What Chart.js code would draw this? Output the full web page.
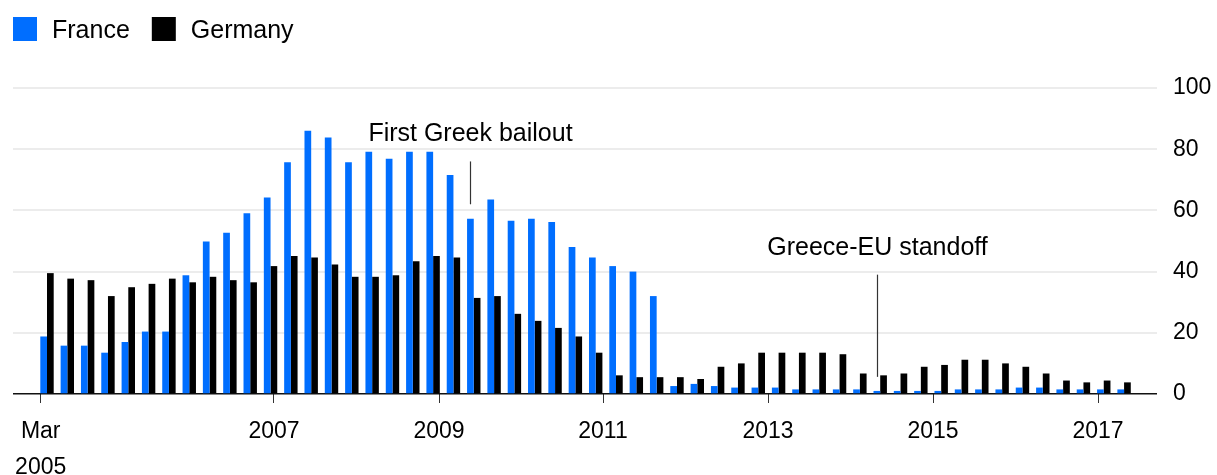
<!DOCTYPE html>
<html>
<head>
<meta charset="utf-8">
<script src="https://cdn.jsdelivr.net/npm/chart.js@4.4.1/dist/chart.umd.min.js"></script>
<style>
  html, body { margin: 0; padding: 0; background: #fff; }
  #wrap { width: 1217px; height: 475px; }
</style>
</head>
<body>
<div id="wrap"><canvas id="chart" width="1217" height="475"></canvas></div>
<script>
// quarterly values, Mar 2005 onwards
const france = [18.8, 15.8, 15.8, 13.5, 17.0, 20.4, 20.4, 38.8, 49.8, 52.7, 59.1, 64.2, 75.7, 86.0, 83.8, 75.7, 79.2, 76.9, 79.2,
  79.2, 71.6, 57.3, 63.6, 56.6, 57.3, 56.2, 48.0, 44.6, 41.8, 40.0, 32.0,
  2.6, 3.3, 2.6, 2.1, 2.1, 2.1, 1.5,
  1.5, 1.5, 1.5, 1.0, 1.0, 1.0, 1.0, 1.5, 1.5, 1.5, 2.1, 2.1, 1.5, 1.5, 1.5, 1.5];
const germany = [39.5, 37.7, 37.2, 32.0, 34.9, 36.0, 37.7, 36.5, 38.3, 37.2, 36.5, 41.8, 45.1, 44.6, 42.3, 38.3, 38.3, 38.8, 43.4,
  45.1, 44.6, 31.4, 32.0, 26.2, 23.9, 21.6, 18.8, 13.5, 6.1, 5.5, 5.5,
  5.5, 4.9, 8.9, 10.0, 13.5, 13.5, 13.5,
  13.5, 13.0, 6.7, 6.1, 6.7, 8.9, 9.5, 11.2, 11.2, 10.0, 8.9, 6.7, 4.4, 3.8, 4.4, 3.8];

const tickLabels = [['Mar', '2005'], '2007', '2009', '2011', '2013', '2015', '2017'];
const tickAt = [-0.31, 11.17, 19.29, 27.36, 35.48, 43.6, 51.72];

const events = [
  { text: 'First Greek bailout', at: 20.82, from: 62, to: 76 },
  { text: 'Greece-EU standoff', at: 40.85, from: 5.6, to: 39 }
];

const FONT = '"Liberation Sans", Arial, sans-serif';
const BLUE = '#006eff';

// legend and event markers drawn on top of the chart
const extras = {
  id: 'extras',
  afterDraw(chart) {
    const ctx = chart.ctx;
    const xs = chart.scales.x, ys = chart.scales.y;
    ctx.save();
    ctx.font = '25px ' + FONT;
    ctx.textBaseline = 'alphabetic';

    let lx = 13;
    chart.data.datasets.forEach(ds => {
      ctx.fillStyle = ds.backgroundColor;
      ctx.fillRect(lx, 17, 24, 24);
      ctx.fillStyle = '#000';
      ctx.textAlign = 'left';
      ctx.fillText(ds.label, lx + 39, 38);
      lx += 39 + ctx.measureText(ds.label).width + 22;
    });

    events.forEach(ev => {
      const px = Math.round(xs.getPixelForValue(ev.at)) + 0.5;
      const top = ys.getPixelForValue(ev.to);
      const bottom = ys.getPixelForValue(ev.from);
      ctx.strokeStyle = '#333';
      ctx.lineWidth = 1.2;
      ctx.beginPath();
      ctx.moveTo(px, top);
      ctx.lineTo(px, bottom);
      ctx.stroke();
      ctx.fillStyle = '#000';
      ctx.textAlign = 'center';
      ctx.fillText(ev.text, px, top - 20);
    });
    ctx.restore();
  }
};

new Chart(document.getElementById('chart'), {
  type: 'bar',
  data: {
    datasets: [
      { label: 'France', data: france.map((v, i) => ({ x: i, y: v })), backgroundColor: BLUE },
      { label: 'Germany', data: germany.map((v, i) => ({ x: i, y: v })), backgroundColor: '#000' }
    ]
  },
  options: {
    responsive: false,
    animation: false,
    layout: { padding: { top: 88, left: 13, right: 0, bottom: 0 } },
    plugins: { legend: { display: false }, tooltip: { enabled: false } },
    datasets: { bar: { categoryPercentage: 0.66, barPercentage: 1 } },
    scales: {
      x: {
        type: 'linear',
        min: -1.673,
        max: 54.62,
        offset: false,
        afterBuildTicks: s => { s.ticks = tickAt.map(v => ({ value: v })); },
        afterFit: s => { s.height = 81; },
        grid: { offset: false, drawOnChartArea: false, drawTicks: true, tickLength: 9, color: '#333', lineWidth: 1 },
        border: { display: false },
        ticks: {
          autoSkip: false, maxRotation: 0, padding: 10, color: '#000',
          font: { family: FONT, size: 23, lineHeight: 1.58 },
          callback: (v, i) => tickLabels[i]
        }
      },
      y: {
        position: 'right',
        min: 0,
        max: 100,
        afterFit: s => { s.width = 60; },
        ticks: { stepSize: 20, padding: 16, color: '#000', font: { family: FONT, size: 23 } },
        grid: {
          drawTicks: false,
          color: c => c.tick.value === 0 ? '#111' : '#ececec',
          lineWidth: c => c.tick.value === 0 ? 1.5 : 2
        },
        border: { display: false }
      }
    }
  },
  plugins: [extras]
});
</script>
</body>
</html>
